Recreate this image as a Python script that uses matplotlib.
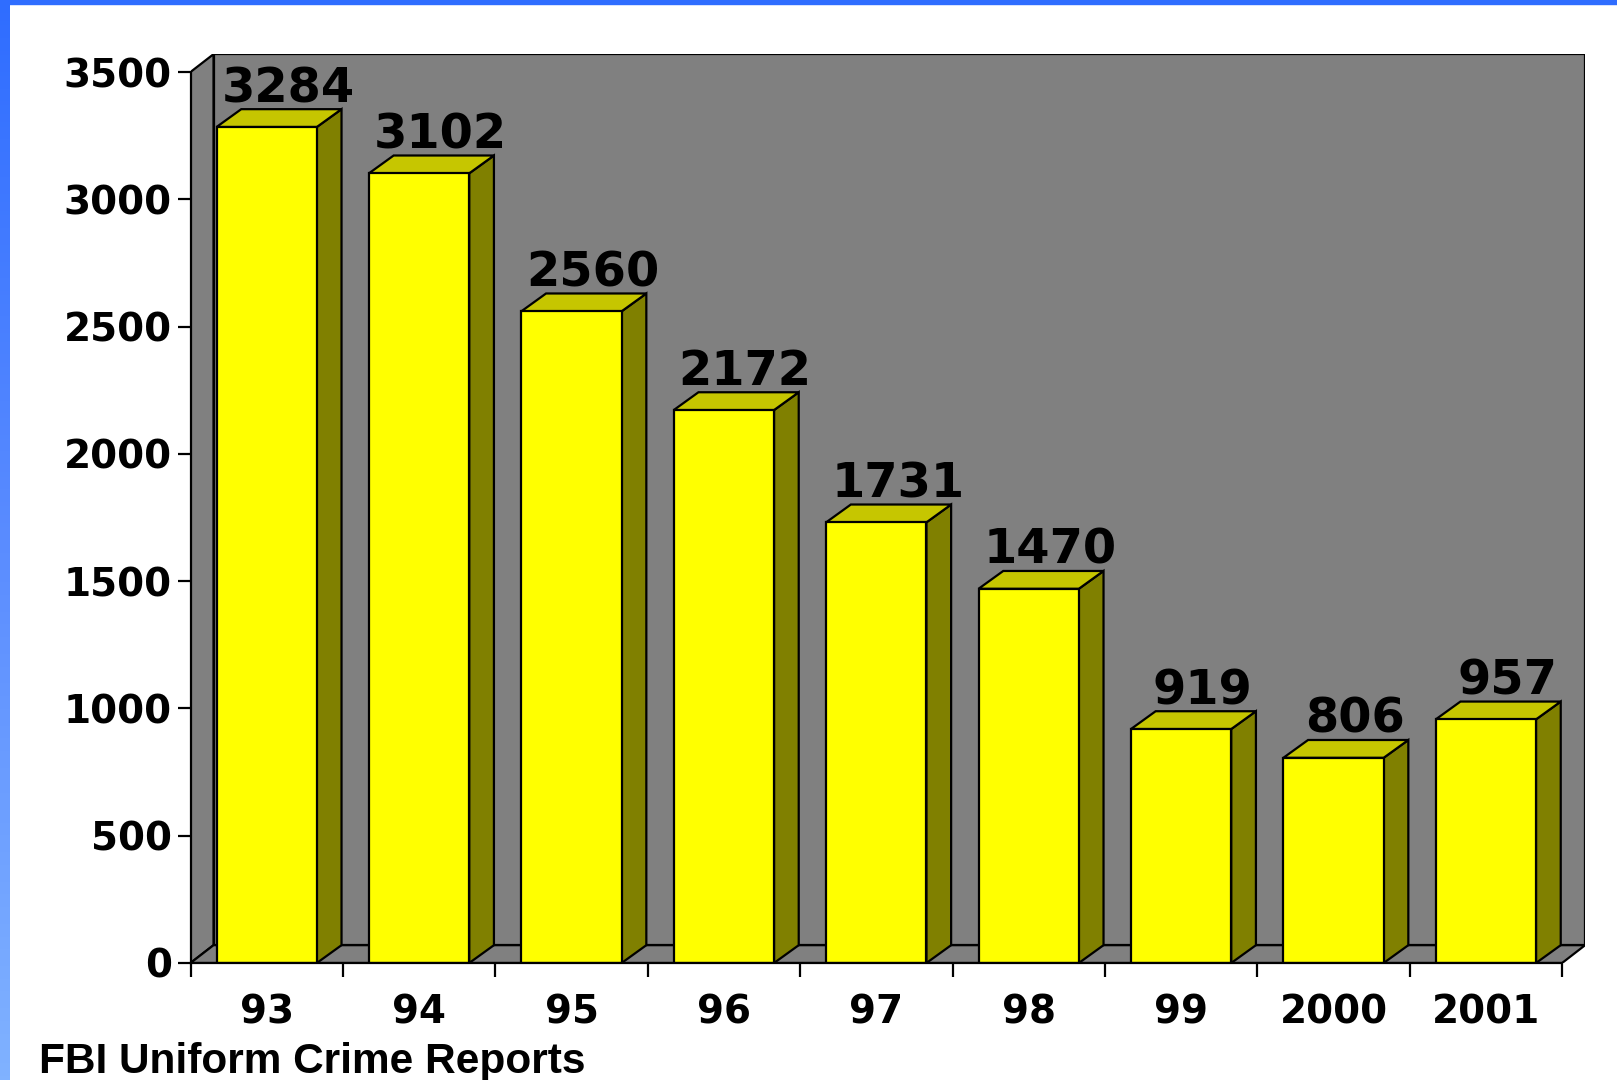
import numpy as np
import matplotlib
matplotlib.use("Agg")
import matplotlib.pyplot as plt
from matplotlib.patches import Polygon, Rectangle

# data
years = ["93", "94", "95", "96", "97", "98", "99", "2000", "2001"]
counts = [3284, 3102, 2560, 2172, 1731, 1470, 919, 806, 957]
y_ticks = [0, 500, 1000, 1500, 2000, 2500, 3000, 3500]
source = "FBI Uniform Crime Reports"

# 3D look
DX_WALL = 0.151   # depth in category units
DX_BAR = 0.162
DY = 70           # depth in value units
BAR_W = 0.658
YMAX = 3500

FRONT = "#FFFF00"
TOP = "#C6C600"
SIDE = "#808000"
WALL = "#808080"

W, H = 1617, 1080
fig = plt.figure(figsize=(W / 100, H / 100), dpi=100)

# blue frame on top and left
grad = np.linspace(0, 1, 256).reshape(-1, 1)
band = fig.add_axes([0, 0, 9 / W, 1])
cmap = matplotlib.colors.LinearSegmentedColormap.from_list("b", ["#2F6DFF", "#5A8CFF", "#80B2FF"])
band.imshow(grad, aspect="auto", cmap=cmap, extent=[0, 1, 0, 1], origin="upper")
band.axis("off")
fig.patches.append(Rectangle((0, 1 - 4 / H), 1, 4 / H, transform=fig.transFigure,
                             color="#2F6DFF", zorder=5))

n = len(years)
cat_px = 152.4
left_px = 190.5
bottom_px = H - 963
px_per_val = 891 / YMAX
ax = fig.add_axes([left_px / W, bottom_px / H,
                   (n + DX_WALL) * cat_px / W, (YMAX + DY) * px_per_val / H])
ax.set_xlim(0, n + DX_WALL)
ax.set_ylim(0, YMAX + DY)
ax.set_facecolor("none")

lw = 1.6
# back wall, left wall, floor
ax.add_patch(Rectangle((DX_WALL, DY), n, YMAX, facecolor=WALL, edgecolor="black", lw=lw, zorder=1))
ax.add_patch(Polygon([(0, 0), (DX_WALL, DY), (DX_WALL, YMAX + DY), (0, YMAX)],
                     closed=True, facecolor=WALL, edgecolor="black", lw=lw, zorder=1))
ax.add_patch(Polygon([(0, 0), (n, 0), (n + DX_WALL, DY), (DX_WALL, DY)],
                     closed=True, facecolor=WALL, edgecolor="black", lw=lw, zorder=1))

for i, v in enumerate(counts):
    x0 = i + (1 - BAR_W) / 2
    x1 = x0 + BAR_W
    ax.add_patch(Polygon([(x1, 0), (x1 + DX_BAR, DY), (x1 + DX_BAR, v + DY), (x1, v)],
                         closed=True, facecolor=SIDE, edgecolor="black", lw=lw, zorder=2))
    ax.add_patch(Polygon([(x0, v), (x1, v), (x1 + DX_BAR, v + DY), (x0 + DX_BAR, v + DY)],
                         closed=True, facecolor=TOP, edgecolor="black", lw=lw, zorder=2))
    ax.add_patch(Rectangle((x0, 0), BAR_W, v, facecolor=FRONT, edgecolor="black", lw=lw, zorder=3))
    ax.text(i + 0.5 + 0.14, v + DY + 28, str(v), ha="center", va="baseline",
            fontsize=34.5, fontweight="bold", family="DejaVu Sans", zorder=4)

# axes
for s in ["top", "right"]:
    ax.spines[s].set_visible(False)
ax.spines["left"].set_bounds(0, YMAX)
ax.spines["bottom"].set_bounds(0, n)
ax.spines["left"].set_linewidth(lw)
ax.spines["bottom"].set_linewidth(lw)
ax.spines["left"].set_zorder(5)
ax.spines["bottom"].set_zorder(5)

ax.set_yticks(y_ticks)
ax.set_yticklabels([str(t) for t in y_ticks])
ax.tick_params(axis="y", direction="out", length=9.5, width=lw, pad=4,
               labelsize=28)
ax.set_xticks(np.arange(n + 1))
ax.set_xticklabels([])
ax.set_xticks(np.arange(n) + 0.5, minor=True)
ax.set_xticklabels(years, minor=True)
ax.tick_params(axis="x", which="major", direction="out", length=10, width=lw)
ax.tick_params(axis="x", which="minor", length=0, pad=22, labelsize=28)
for lab in ax.get_xticklabels(minor=True) + ax.get_yticklabels():
    lab.set_fontweight("bold")
    lab.set_family("DejaVu Sans")

fig.text(39 / W, (H - 1073) / H, source, ha="left", va="baseline",
         fontsize=30.5, fontweight="bold", family="Liberation Sans")

fig.savefig("out.png", dpi=100)
